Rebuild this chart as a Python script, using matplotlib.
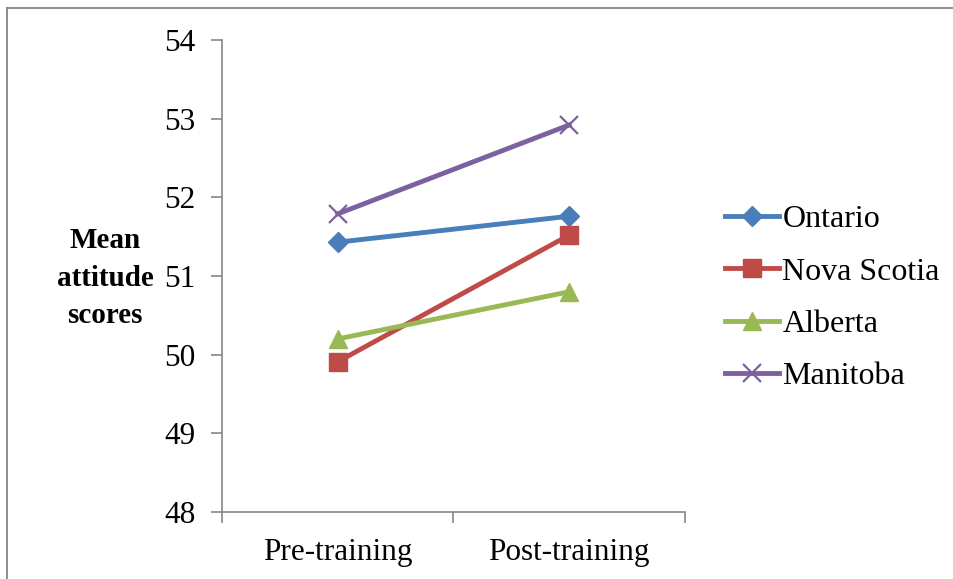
import matplotlib.pyplot as plt
from matplotlib.lines import Line2D

plt.rcParams['font.family'] = ['Liberation Serif', 'DejaVu Serif']

stages = ['Pre-training', 'Post-training']
ontario = [51.43, 51.76]
nova_scotia = [49.91, 51.52]
alberta = [50.20, 50.80]
manitoba = [51.79, 52.92]

series = [
  ('Ontario', ontario, '#4A7EBB', 'D', 10.5),
  ('Nova Scotia', nova_scotia, '#BE4B48', 's', 13.5),
  ('Alberta', alberta, '#98B954', '^', 13.5),
  ('Manitoba', manitoba, '#7D60A0', 'x', 13),
]

W, H = 954, 579
fig = plt.figure(figsize=(W / 100, H / 100), dpi=100)
ax = fig.add_axes([222 / W, 1 - 512 / H, (685 - 222) / W, (512 - 40) / H])

x = list(range(len(stages)))
for name, vals, color, marker, ms in series:
  mew = 1.6 if marker == 'x' else 1
  ax.plot(x, vals, color=color, linewidth=3.5, marker=marker, markersize=ms,
          markeredgewidth=mew, markeredgecolor=color, label=name)

ax.set_xlim(-0.5, 1.5)
ax.set_ylim(48, 54)
ax.set_yticks(range(48, 55))
ax.set_xticks(x)
ax.set_xticklabels(stages)
ax.set_xticks([-0.5, 0.5, 1.5], minor=True)
ax.tick_params(axis='x', which='major', length=0, pad=19, labelsize=22.5)
ax.tick_params(axis='x', which='minor', length=8, width=1.2, color='#868686')
ax.tick_params(axis='y', length=8, width=1.2, color='#868686', pad=11, labelsize=22.5)

for side in ('top', 'right'):
  ax.spines[side].set_visible(False)
for side in ('left', 'bottom'):
  ax.spines[side].set_color('#868686')
  ax.spines[side].set_linewidth(1.2)

fig.text(105 / W, 1 - 278 / H, 'Mean\nattitude\nscores', ha='center', va='center',
         fontsize=21, fontweight='bold', linespacing=1.52)

ax.legend(loc='center left', bbox_to_anchor=(725 / W, 1 - 298 / H),
          bbox_transform=fig.transFigure, frameon=False, fontsize=23,
          handlelength=1.7, handletextpad=0.1, labelspacing=0.72, borderpad=0,
          borderaxespad=0)

# thin frame on the top and left edges
fig.add_artist(Line2D([7.5 / W, 7.5 / W], [0, 1 - 7.5 / H], transform=fig.transFigure,
                      color='#868686', linewidth=1.3))
fig.add_artist(Line2D([7.5 / W, 1], [1 - 7.5 / H, 1 - 7.5 / H], transform=fig.transFigure,
                      color='#868686', linewidth=1.3))

fig.savefig('out.png', dpi=100)
